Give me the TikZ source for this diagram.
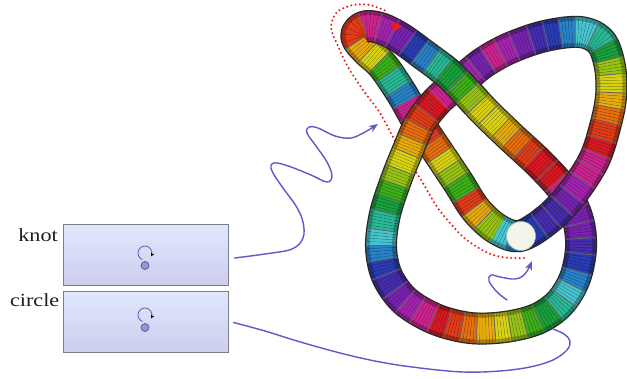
\documentclass[tikz,border=0pt]{standalone}
\usepackage{fontspec}
\setmainfont{Liberation Serif}
\usepackage{graphicx}
\usetikzlibrary{calc,arrows.meta,decorations.markings}

% colour wheel used for the bands of the tube
\definecolor{hue0}{RGB}{215,25,35}
\definecolor{hue1}{RGB}{225,60,25}
\definecolor{hue2}{RGB}{230,110,15}
\definecolor{hue3}{RGB}{230,170,15}
\definecolor{hue4}{RGB}{215,210,20}
\definecolor{hue5}{RGB}{150,195,20}
\definecolor{hue6}{RGB}{60,175,25}
\definecolor{hue7}{RGB}{25,160,60}
\definecolor{hue8}{RGB}{40,185,150}
\definecolor{hue9}{RGB}{70,195,205}
\definecolor{hue10}{RGB}{40,130,200}
\definecolor{hue11}{RGB}{40,60,180}
\definecolor{hue12}{RGB}{70,45,175}
\definecolor{hue13}{RGB}{120,35,175}
\definecolor{hue14}{RGB}{165,35,175}
\definecolor{hue15}{RGB}{205,35,145}
\definecolor{wavecol}{RGB}{98,88,200}
\definecolor{dotcol}{RGB}{232,30,30}
\definecolor{boxtop}{RGB}{224,232,250}
\definecolor{boxbot}{RGB}{205,205,240}
\definecolor{boxline}{RGB}{125,125,138}
\definecolor{ringcol}{RGB}{105,105,185}
\definecolor{beadfill}{RGB}{150,150,210}
\definecolor{beadline}{RGB}{85,85,150}
\definecolor{capfill}{RGB}{242,246,234}

% estimated arc length of the tube centre line
\def\tubelen{1486}

% unwrapped hue index at arc length #1 (decreasing along the tube)
\newcommand\tubehue[1]{%
  \pgfmathsetmacro\tubeh{(#1)<50 ? 6-(#1)/50*6 : ((#1)<157 ? 6-((#1)-50)/107*7 : ((#1)<275 ? -5-((#1)-157)/118*13 : ((#1)<355 ? -17.5-((#1)-275)/80*7.5 : ((#1)<557 ? -25-((#1)-355)/202*10 : ((#1)<1097 ? -34.5-((#1)-557)/540*33 : ((#1)<1320 ? -63.5-((#1)-1097)/223*15.5 : -79-((#1)-1320)/166*8)))))))}%
}

% one short piece of the tube around mark #1
\newcommand\tubepiece[1]{%
  \pgfmathtruncatemacro\tpn{#1==\knotN ? 1 : #1+1}%
  \pgfmathtruncatemacro\tpp{#1==1 ? \knotN : #1-1}%
  \pgfmathsetmacro\tps{(#1-1)/\knotN*\tubelen}%
  \pgfmathtruncatemacro\tpband{floor(\tps/16)}%
  \pgfmathtruncatemacro\tpprevband{floor((#1-2)/\knotN*\tubelen/16)}%
  \tubehue{\tpband*16+8}%
  \pgfmathtruncatemacro\tpc{mod(round(\tubeh)+160,16)}%
  \coordinate (ta) at ($(k\tpp)!0.5!(k#1)$);
  \coordinate (tb) at ($(k#1)!0.62!(k\tpn)$);
  \draw[tubeedge] (ta) -- (k#1) -- (tb);
  \draw[tubeshade, draw=hue\tpc!74!black] (ta) -- (k#1) -- (tb);
  \draw[tubebody, draw=hue\tpc] (ta) -- (k#1) -- (tb);
  \draw[meshline] ($(ta)!14pt!90:(k#1)$) -- ($(ta)!14pt!-90:(k#1)$);
  \ifnum\tpband>\tpprevband
    \draw[bandline] ($(ta)!15pt!90:(k#1)$) -- ($(ta)!15pt!-90:(k#1)$);
  \fi
}

\begin{document}
\begin{tikzpicture}[x=1pt,y=-1pt,
  tubeedge/.style={line width=32pt, draw=black!85, line join=round},
  tubeshade/.style={line width=29.5pt, line join=round},
  tubebody/.style={line width=22pt, line join=round},
  bandline/.style={line width=0.8pt, draw=black!60},
  meshline/.style={line width=0.3pt, draw=black, draw opacity=0.22},
  panel/.style={draw=boxline, line width=1pt, top color=boxtop, bottom color=boxbot,
    minimum width=165pt, minimum height=61pt, inner sep=0pt},
  tag/.style={anchor=base east, inner sep=0pt, text=black!88,
    font=\fontsize{18.5}{20}\selectfont},
  bead/.style={circle, draw=beadline, fill=beadfill, line width=0.7pt,
    minimum size=8pt, inner sep=0pt},
  ringpt/.style={circle, minimum size=14pt, inner sep=0pt},
  ringarc/.style={draw=ringcol, line width=0.9pt,
    -{Stealth[length=3.6pt,width=3.6pt,black]}},
  wave/.style={draw=wavecol, line width=1.4pt, line cap=round},
  wavetip/.style={-{Stealth[length=9pt,width=7pt,inset=2.5pt]}},
  trail/.style={draw=dotcol, line width=2.3pt, line cap=round,
    dash pattern=on 0pt off 4.3pt}]

\useasboundingbox (0,0) rectangle (627,379);
\fill[white] (0,0) rectangle (627,379);

% ---- dotted trail along the tube (passes behind it) ----
\coordinate (dota) at (524,258);
\coordinate (dotb) at (402,26);
\draw[trail] plot[smooth, tension=0.55] coordinates {(dota) (510,258) (493,255) (477,247)
  (463,237) (450,223) (437,207) (427,190) (418,175) (405,156) (393,137) (380,113)
  (363,90) (348,67) (337,44) (331,27) (337,12) (353,5) (370,5) (386,11)};

% ---- centre line of the knotted tube, sampled every 3pt ----
\path[decorate, decoration={markings,
  mark=between positions 0 and 0.998 step 3pt with {%
    \coordinate (k\pgfkeysvalueof{/pgf/decoration/mark info/sequence number});
    \xdef\knotN{\pgfkeysvalueof{/pgf/decoration/mark info/sequence number}}}}]
  plot[smooth cycle, tension=0.55] coordinates {
  (520,236) (497,229) (476,210) (458,182) (438,152) (418,122) (402,94) (383,66)
  (367,51) (357,39) (358,31) (367,26) (383,29) (402,39) (424,55) (444,70) (459,84)
  (485,112) (512,138) (540,164) (565,192) (578,220) (581,248) (575,278) (560,303)
  (537,319) (505,327) (470,328) (435,319) (405,301) (387,276) (381,247) (385,214)
  (396,180) (408,150) (420,123) (438,100) (460,82) (483,63) (510,48) (545,36)
  (580,32) (601,42) (610,67) (611,97) (605,127) (594,160) (572,194) (548,219)};

\foreach \i in {1,...,\knotN}{\tubepiece{\i}}

% the strand passing over at the upper middle crossing
\pgfmathtruncatemacro\redrawlo{0.18*\knotN}
\pgfmathtruncatemacro\redrawhi{0.36*\knotN}
\begin{scope}
  \clip (459,84) circle[radius=30];
  \foreach \i in {\redrawlo,...,\redrawhi}{\tubepiece{\i}}
\end{scope}

% head of the dotted trail, lying on the tube edge
\fill[dotcol] (dotb) -- ++(-11.5,-5.5) -- ++(3.5,11.5) -- cycle;

% open end of the tube
\node[circle, minimum size=29pt, inner sep=0pt, fill=capfill,
  draw=capfill!75!black, line width=0.5pt] (cap) at (521,236) {};

% ---- the two panels ----
\node[panel] (knotbox) at (145.5,255.5) {};
\node[panel] (circlebox) at (145.5,322.5) {};
\node[tag] (knotlabel) at (58,242) {\scalebox{1.2}[1]{knot}};
\node[tag] (circlelabel) at (59.5,307) {\scalebox{1.2}[1]{circle}};

\node[ringpt] (knotring) at (145,253) {};
\node[bead] (knotbead) at (145,265.5) {};
\draw[ringarc] ($(knotring)+(112:7)$) arc[start angle=112, end angle=388, radius=7];
\node[ringpt] (circlering) at (145,315) {};
\node[bead] (circlebead) at (145,327.5) {};
\draw[ringarc] ($(circlering)+(112:7)$) arc[start angle=112, end angle=388, radius=7];

% ---- wavy connectors ----
\coordinate (w1a) at ($(knotbox.east)+(6,2.5)$);
\coordinate (w1b) at (378,124);
\draw[wave, wavetip] plot[smooth, tension=0.6] coordinates {(w1a) (265,254) (292,249)
  (303,238) (303,222) (296,206) (283,188) (273,173) (271,165) (277,163) (291,167)
  (311,175) (327,182) (332,176) (327,162) (316,146) (307,133) (309,127) (318,128)
  (335,136) (351,138) (365,132) (w1b)};

\coordinate (w2a) at ($(circlebox.east)+(5,0)$);
\coordinate (w2b) at (553,329);
\draw[wave] plot[smooth, tension=0.6] coordinates {(w2a) (265,331) (297,341) (340,353)
  (380,362) (420,368) (463,372) (500,371) (530,367) (553,360) (567,350) (570,341)
  (564,334) (w2b)};

\coordinate (w3a) at (507,300);
\coordinate (w3b) at (532,261);
\draw[wave, wavetip] plot[smooth, tension=0.6] coordinates {(w3a) (497,292) (489,281)
  (491,275) (500,277) (515,279) (525,274) (w3b)};

\end{tikzpicture}
\end{document}
